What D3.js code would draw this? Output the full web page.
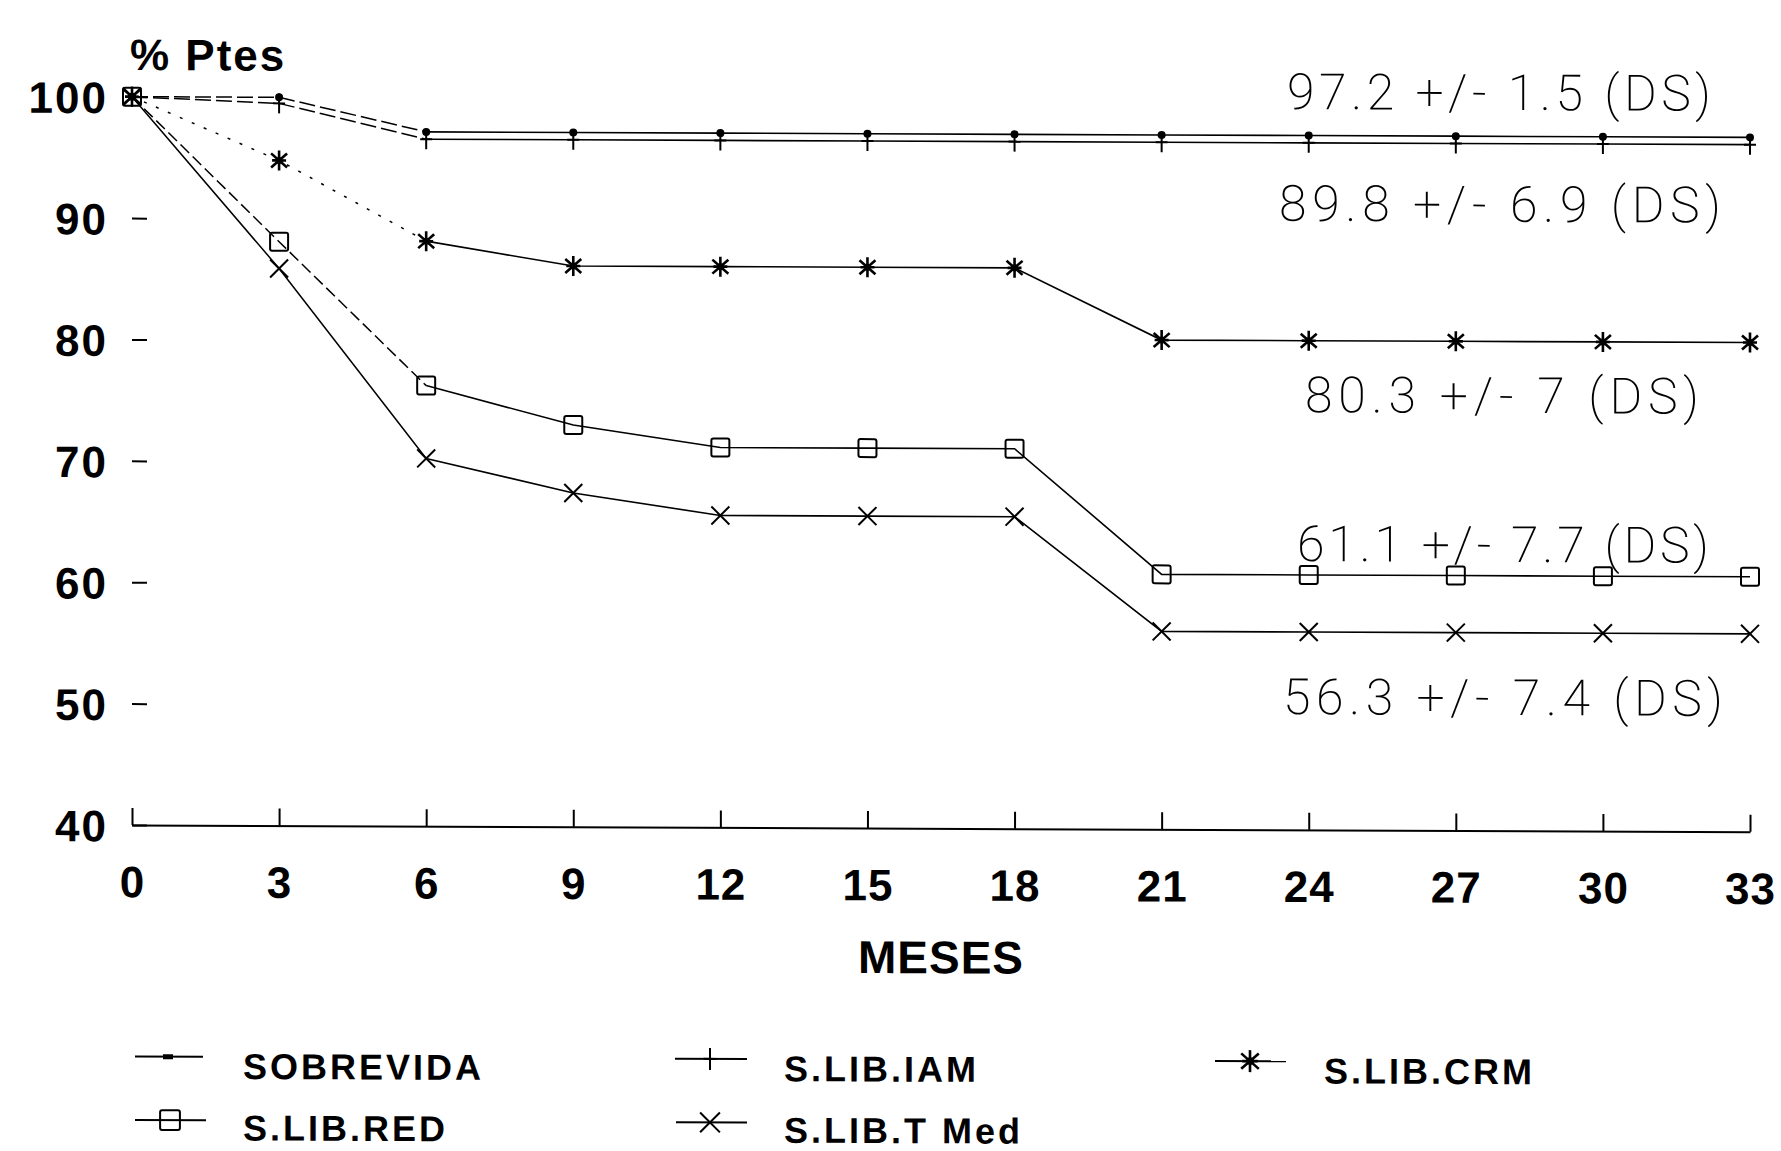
<!DOCTYPE html>
<html>
<head>
<meta charset="utf-8">
<script src="https://cdn.jsdelivr.net/npm/d3@7"></script>
<style>
  html, body { margin: 0; padding: 0; background: #fff; }
  svg { display: block; }
</style>
</head>
<body>
<svg id="chart" width="1781" height="1151"></svg>
<script>
// ---------------- DATA ----------------
const months = [0, 3, 6, 9, 12, 15, 18, 21, 24, 27, 30, 33];
const sobrevida = [100, 100, 97.2, 97.2, 97.2, 97.2, 97.2, 97.2, 97.2, 97.2, 97.2, 97.2];
const libIam    = [100, 99.5, 96.6, 96.6, 96.6, 96.6, 96.6, 96.6, 96.6, 96.6, 96.6, 96.6];
const libCrm    = [100, 94.8, 88.2, 86.2, 86.2, 86.2, 86.2, 80.3, 80.3, 80.3, 80.3, 80.3];
const libRed    = [100, 88.1, 76.3, 73.1, 71.3, 71.3, 71.3, 61.0, 61.0, 61.0, 61.0, 61.0];
const libTmed   = [100, 85.9, 70.3, 67.5, 65.7, 65.7, 65.7, 56.3, 56.3, 56.3, 56.3, 56.3];
const seriesNames = ["SOBREVIDA", "S.LIB.IAM", "S.LIB.CRM", "S.LIB.RED", "S.LIB.T Med"];
const yTickValues = [40, 50, 60, 70, 80, 90, 100];
const xTickValues = months;
const yTitle = "% Ptes";
const xTitle = "MESES";
const annotationTexts = [
  "97.2 +/- 1.5 (DS)",
  "89.8 +/- 6.9 (DS)",
  "80.3 +/- 7 (DS)",
  "61.1 +/- 7.7 (DS)",
  "56.3 +/- 7.4 (DS)"
];

// ---------------- LAYOUT ----------------
const X0 = 132, X1 = 1750, Y_TOP = 96.7, Y_BOT = 825;
const skewDeg = 0.237; // scan skew of the original
const boldFont = "'Liberation Sans', Arial, Helvetica, sans-serif";
const lightFont = "Roboto, 'Open Sans', 'Liberation Sans', sans-serif";
// annotation layout: [x, baseline, width]
const annotationLayout = [
  [1287, 104.3, 424],
  [1279, 216.0, 442],
  [1305, 407.3, 394],
  [1297, 556.3, 412],
  [1283, 709.3, 440]
];
// legend layout: [lineX0, lineX1, markerX, textX, rowY, textOffset]
const legendLayout = [
  [135, 203, 168, 243, 1056.5, 22],
  [675, 747, 710, 784, 1056.5, 22],
  [1215, 1286, 1250, 1324, 1056.5, 22],
  [135, 206, 170, 243, 1120, 20],
  [676, 747, 710, 784, 1120, 20]
];

const svg = d3.select("#chart");
svg.append("rect").attr("width", 1781).attr("height", 1151).attr("fill", "#fff");

const root = svg.append("g")
  .attr("transform", `translate(${X0},0) skewY(${skewDeg}) translate(${-X0},0)`);

const x = d3.scaleLinear().domain([0, 33]).range([X0, X1]);
const y = d3.scaleLinear().domain([40, 100]).range([Y_BOT, Y_TOP]);

// ---------------- AXES ----------------
const yAxis = root.append("g")
  .attr("transform", `translate(${X0},0)`)
  .call(d3.axisLeft(y).tickValues(yTickValues).tickSizeInner(-15).tickSizeOuter(0).tickPadding(24));
yAxis.select(".domain").remove();
yAxis.selectAll(".tick line").attr("stroke", "#000").attr("stroke-width", 2);
yAxis.selectAll(".tick text")
  .attr("dy", 16)
  .attr("fill", "#000")
  .style("font-family", boldFont)
  .style("font-weight", "bold")
  .style("font-size", "44px")
  .style("letter-spacing", "2px");

const xAxis = root.append("g")
  .attr("transform", `translate(0,${Y_BOT})`)
  .call(d3.axisBottom(x).tickValues(xTickValues).tickSizeInner(-17).tickSizeOuter(0).tickPadding(41));
xAxis.select(".domain").attr("stroke", "#000").attr("stroke-width", 2);
xAxis.selectAll(".tick line").attr("stroke", "#000").attr("stroke-width", 2);
xAxis.selectAll(".tick text")
  .attr("fill", "#000")
  .style("font-family", boldFont)
  .style("font-weight", "bold")
  .style("font-size", "44px")
  .style("letter-spacing", "1px");

root.append("text")
  .attr("x", 130).attr("y", 70)
  .style("font-family", boldFont).style("font-weight", "bold")
  .style("font-size", "44px").style("letter-spacing", "2px")
  .text(yTitle);

root.append("text")
  .attr("x", (X0 + X1) / 2).attr("y", 970)
  .attr("text-anchor", "middle")
  .style("font-family", boldFont).style("font-weight", "bold")
  .style("font-size", "46px").style("letter-spacing", "1px")
  .text(xTitle);

// ---------------- MARKERS ----------------
function drawMarker(g, type, cx, cy, s) {
  const sw = 2;
  if (type === "dot") {
    g.append("circle").attr("cx", cx).attr("cy", cy).attr("r", 4 * s).attr("fill", "#000");
  } else if (type === "plus") {
    g.append("line").attr("x1", cx).attr("x2", cx).attr("y1", cy - 10 * s).attr("y2", cy + 10 * s)
      .attr("stroke", "#000").attr("stroke-width", sw);
    g.append("line").attr("x1", cx - 6 * s).attr("x2", cx + 6 * s).attr("y1", cy).attr("y2", cy)
      .attr("stroke", "#000").attr("stroke-width", sw);
  } else if (type === "star") {
    const r = 10 * s;
    [[0, -r, 0, r], [-r * 0.8, -r * 0.7, r * 0.8, r * 0.7], [-r * 0.8, r * 0.7, r * 0.8, -r * 0.7], [-r * 0.7, 0, r * 0.7, 0]]
      .forEach(d => g.append("line")
        .attr("x1", cx + d[0]).attr("y1", cy + d[1]).attr("x2", cx + d[2]).attr("y2", cy + d[3])
        .attr("stroke", "#000").attr("stroke-width", 2.6));
    g.append("circle").attr("cx", cx).attr("cy", cy).attr("r", 3.5 * s).attr("fill", "#000");
  } else if (type === "square") {
    const h = 9 * s;
    g.append("rect").attr("x", cx - h).attr("y", cy - h).attr("width", 2 * h).attr("height", 2 * h)
      .attr("rx", 2).attr("fill", "none").attr("stroke", "#000").attr("stroke-width", sw);
  } else if (type === "cross") {
    const h = 9 * s;
    g.append("line").attr("x1", cx - h).attr("y1", cy - h).attr("x2", cx + h).attr("y2", cy + h)
      .attr("stroke", "#000").attr("stroke-width", sw);
    g.append("line").attr("x1", cx - h).attr("y1", cy + h).attr("x2", cx + h).attr("y2", cy - h)
      .attr("stroke", "#000").attr("stroke-width", sw);
  }
}

// ---------------- SERIES ----------------
// early segments of the original print are faint/broken; dash style per series for months 0-6
const series = [
  { name: seriesNames[0], values: sobrevida, marker: "dot",    earlyDash: "16,5" },
  { name: seriesNames[1], values: libIam,    marker: "plus",   earlyDash: "16,5" },
  { name: seriesNames[2], values: libCrm,    marker: "star",   earlyDash: "3,10" },
  { name: seriesNames[3], values: libRed,    marker: "square", earlyDash: "12,5" },
  { name: seriesNames[4], values: libTmed,   marker: "cross",  earlyDash: null }
];

const line = d3.line().x(d => x(d[0])).y(d => y(d[1]));
const plot = root.append("g");
series.forEach(s => {
  const pts = months.map((m, i) => [m, s.values[i]]);
  const early = pts.filter(p => p[0] <= 6);
  const late = pts.filter(p => p[0] >= 6);
  plot.append("path").datum(early).attr("d", line)
    .attr("fill", "none").attr("stroke", "#000").attr("stroke-width", 1.5)
    .attr("stroke-dasharray", s.earlyDash);
  plot.append("path").datum(late).attr("d", line)
    .attr("fill", "none").attr("stroke", "#000").attr("stroke-width", 1.6);
  const mg = plot.append("g");
  pts.forEach(p => drawMarker(mg, s.marker, x(p[0]), y(p[1]), 1));
});

// ---------------- ANNOTATIONS ----------------
annotationTexts.forEach((t, i) => {
  const L = annotationLayout[i];
  root.append("text")
    .attr("x", L[0]).attr("y", L[1])
    .attr("textLength", L[2]).attr("lengthAdjust", "spacing")
    .style("font-family", lightFont).style("font-weight", 200)
    .style("font-size", "50px").attr("fill", "#000")
    .text(t);
});

// ---------------- LEGEND ----------------
const legend = root.append("g");
series.forEach((s, i) => {
  const L = legendLayout[i];
  legend.append("line").attr("x1", L[0]).attr("x2", L[1]).attr("y1", L[4]).attr("y2", L[4])
    .attr("stroke", "#000").attr("stroke-width", 2);
  if (s.marker === "dot") {
    legend.append("rect").attr("x", L[2] - 5).attr("y", L[4] - 2.5).attr("width", 10).attr("height", 5).attr("fill", "#000");
  } else {
    drawMarker(legend, s.marker, L[2], L[4], 1.1);
  }
  legend.append("text")
    .attr("x", L[3]).attr("y", L[4] + L[5])
    .style("font-family", boldFont).style("font-weight", "bold")
    .style("font-size", "36px").style("letter-spacing", "3px")
    .text(s.name);
});
</script>
</body>
</html>
